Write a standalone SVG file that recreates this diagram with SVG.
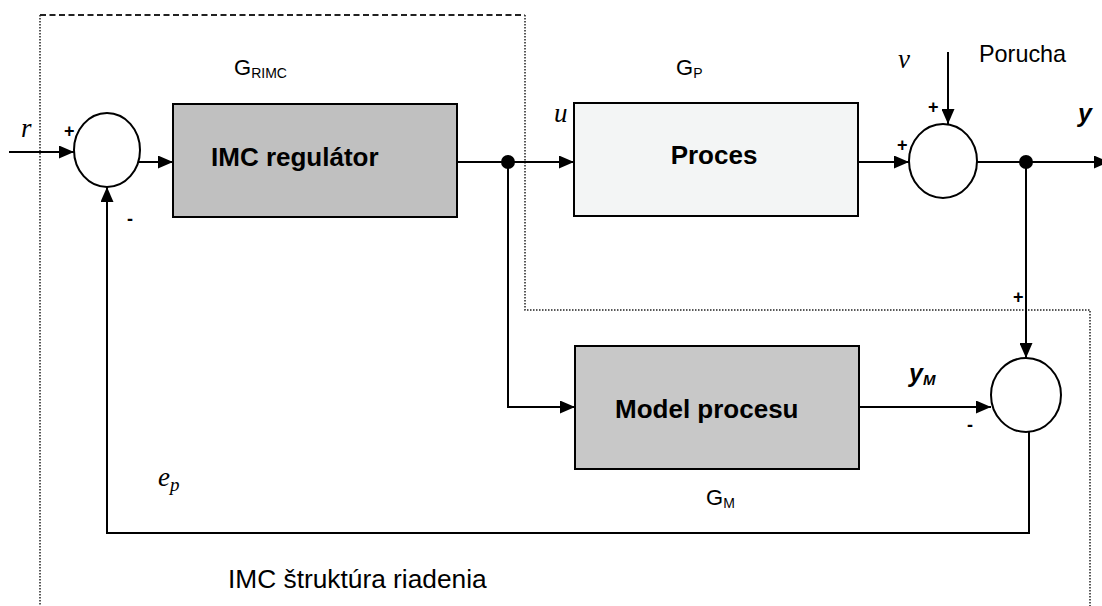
<svg xmlns="http://www.w3.org/2000/svg" width="1102" height="606" viewBox="0 0 1102 606">
<style>
.box{stroke:#000;stroke-width:2}
.ln{fill:none;stroke:#000;stroke-width:2}
.sum{fill:#fff;stroke:#000;stroke-width:2}
.dot{fill:none;stroke:#222;stroke-width:1.5;stroke-dasharray:1.5 1.5}
.dash{fill:none;stroke:#222;stroke-width:1.8;stroke-dasharray:6 3.5}
.bl{font-family:"Liberation Sans",Arial,sans-serif;font-weight:bold;font-size:26px}
.lb{font-family:"Liberation Sans",Arial,sans-serif;font-size:22px}
.big{font-family:"Liberation Sans",Arial,sans-serif;font-size:26.3px}
.por{font-family:"Liberation Sans",Arial,sans-serif;font-size:23.4px}
.sub{font-family:"Liberation Sans",Arial,sans-serif;font-size:14px}
.it{font-family:"Liberation Serif","Times New Roman",serif;font-style:italic;font-size:27px}
.sg{font-family:"Liberation Sans",Arial,sans-serif;font-weight:bold;font-size:18px}
.by{font-family:"Liberation Sans",Arial,sans-serif;font-weight:bold;font-style:italic;font-size:25px}
</style>
<defs>
<marker id="ah" markerWidth="15" markerHeight="13" refX="15" refY="6.5" orient="auto" markerUnits="userSpaceOnUse">
<path d="M0,0 L15,6.5 L0,13 Z" fill="#000"/>
</marker>
</defs>
<rect width="1102" height="606" fill="#fff"/>
<g id="boundary">
<path class="dash" d="M40,15 H525"/>
<path class="dot" d="M40,15 V606"/>
<path class="dot" d="M525,15 V310 H1090 V606"/>
</g>
<g id="connectors">
<path class="ln" d="M9,152 H74" marker-end="url(#ah)"/>
<path class="ln" d="M139,162 H173" marker-end="url(#ah)"/>
<path class="ln" d="M457,162 H574" marker-end="url(#ah)"/>
<path class="ln" d="M508,162 V407 H575" marker-end="url(#ah)"/>
<path class="ln" d="M858,162 H909" marker-end="url(#ah)"/>
<path class="ln" d="M948,52 V124" marker-end="url(#ah)"/>
<path class="ln" d="M977,162 H1109" marker-end="url(#ah)"/>
<path class="ln" d="M1026,162 V358" marker-end="url(#ah)"/>
<path class="ln" d="M859,407 H991" marker-end="url(#ah)"/>
<path class="ln" d="M1029,432 V533 H107 V187" marker-end="url(#ah)"/>
<circle cx="508" cy="162" r="7" fill="#000"/>
<circle cx="1026" cy="162" r="7" fill="#000"/>
</g>
<g id="sum1">
<ellipse class="sum" cx="107" cy="150" rx="33" ry="37"/>
<text class="sg" x="64" y="137">+</text>
<text class="sg" x="127" y="225">-</text>
</g>
<g id="imc">
<rect class="box" x="173" y="104" width="284" height="113" fill="#c0c0c0"/>
<text class="bl" x="211" y="166">IMC regulátor</text>
<text class="lb" x="234" y="75">G<tspan class="sub" dy="3">RIMC</tspan></text>
</g>
<g id="proces">
<rect class="box" x="574" y="103" width="284" height="113" fill="#f3f5f5"/>
<text class="bl" x="714" y="164" text-anchor="middle">Proces</text>
<text class="lb" x="676" y="75">G<tspan class="sub" dy="3">P</tspan></text>
</g>
<g id="sum2">
<ellipse class="sum" cx="943" cy="161" rx="34" ry="37"/>
<text class="sg" x="928" y="113">+</text>
<text class="sg" x="897" y="151" font-weight="normal">+</text>
</g>
<g id="model">
<rect class="box" x="575" y="346" width="284" height="123" fill="#c8c8c8"/>
<text class="bl" x="615" y="418">Model procesu</text>
<text class="lb" x="706" y="505">G<tspan class="sub" dy="3">M</tspan></text>
</g>
<g id="sum3">
<ellipse class="sum" cx="1026" cy="395" rx="35" ry="37"/>
<text class="sg" x="1013" y="303">+</text>
<text class="sg" x="967" y="431">-</text>
</g>
<g id="labels">
<text class="it" x="21" y="137">r</text>
<text class="it" x="554" y="122">u</text>
<text class="it" x="898" y="68">v</text>
<text class="por" x="979" y="62">Porucha</text>
<text class="by" x="1078" y="122">y</text>
<text class="by" x="909" y="382">y<tspan font-size="15" dy="3">M</tspan></text>
<text class="it" x="158" y="486">e<tspan font-size="19" dy="5">p</tspan></text>
<text class="big" x="228" y="588">IMC štruktúra riadenia</text>
</g>
</svg>
